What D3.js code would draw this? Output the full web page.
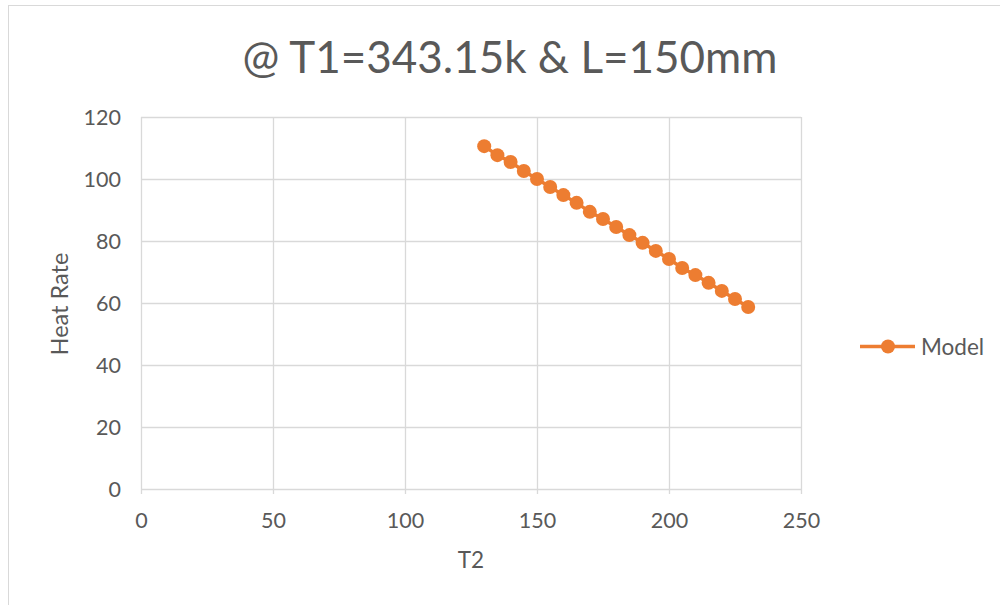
<!DOCTYPE html>
<html>
<head>
<meta charset="utf-8">
<script src="https://cdn.jsdelivr.net/npm/d3@7"></script>
<style>
  html, body { margin: 0; padding: 0; background: #fff; }
  svg { display: block; }
  text { font-family: Lato, "Open Sans", sans-serif; fill: #595959; }
</style>
</head>
<body>
<svg id="chart" width="1000" height="605"></svg>
<script>
// Heat rate vs. outlet temperature T2
const t2Values = [130, 135, 140, 145, 150, 155, 160, 165, 170, 175, 180, 185, 190, 195, 200, 205, 210, 215, 220, 225, 230];
const heatRate = [110.6, 107.7, 105.5, 102.6, 100.0, 97.4, 94.8, 92.3, 89.4, 87.1, 84.5, 81.9, 79.4, 76.8, 74.2, 71.3, 69.0, 66.5, 63.9, 61.3, 58.7];
const xTicks = [0, 50, 100, 150, 200, 250];
const yTicks = [0, 20, 40, 60, 80, 100, 120];
const seriesName = "Model";
const titleText = "@ T1=343.15k & L=150mm";

const svg = d3.select("#chart");
const orange = "#ED7D31";
const grid = "#D9D9D9";

// chart frame
svg.append("rect")
  .attr("x", 8.5).attr("y", 5.5)
  .attr("width", 1000).attr("height", 700)
  .attr("fill", "none").attr("stroke", "#D9D9D9");

const plotL = 141, plotR = 801, plotT = 117, plotB = 489;
const x = d3.scaleLinear().domain([0, 250]).range([plotL, plotR]);
const y = d3.scaleLinear().domain([0, 120]).range([plotB, plotT]);

// gridlines
svg.append("g").selectAll("line").data(xTicks).join("line")
  .attr("x1", d => x(d) + 0.5).attr("x2", d => x(d) + 0.5)
  .attr("y1", plotT).attr("y2", plotB + 5)
  .attr("stroke", grid).attr("stroke-width", 1.3);
svg.append("g").selectAll("line").data(yTicks).join("line")
  .attr("x1", plotL).attr("x2", plotR)
  .attr("y1", d => y(d) + 0.5).attr("y2", d => y(d) + 0.5)
  .attr("stroke", grid).attr("stroke-width", 1.3);

// tick labels
svg.append("g").selectAll("text").data(xTicks).join("text")
  .attr("x", d => x(d) + 0.5).attr("y", 528)
  .attr("text-anchor", "middle").attr("font-size", 21.5)
  .text(d => d);
svg.append("g").selectAll("text").data(yTicks).join("text")
  .attr("x", 121).attr("y", d => y(d) + 7.5)
  .attr("text-anchor", "end").attr("font-size", 21.5)
  .text(d => d);

// axis titles
svg.append("text").attr("x", 471).attr("y", 568)
  .attr("text-anchor", "middle").attr("font-size", 22.5).text("T2");
svg.append("text")
  .attr("transform", "translate(68,304) rotate(-90)")
  .attr("text-anchor", "middle").attr("font-size", 23.5).text("Heat Rate");

// chart title
svg.append("text").attr("x", 510).attr("y", 73)
  .attr("text-anchor", "middle").attr("font-size", 44).text(titleText);

// series
const pts = t2Values.map((t, i) => [t, heatRate[i]]);
svg.append("path")
  .attr("d", d3.line().x(d => x(d[0])).y(d => y(d[1]))(pts))
  .attr("fill", "none").attr("stroke", orange).attr("stroke-width", 3.5);
svg.append("g").selectAll("circle").data(pts).join("circle")
  .attr("cx", d => x(d[0])).attr("cy", d => y(d[1]))
  .attr("r", 7).attr("fill", orange);

// legend
svg.append("line").attr("x1", 860).attr("x2", 915).attr("y1", 346.5).attr("y2", 346.5)
  .attr("stroke", orange).attr("stroke-width", 3.5);
svg.append("circle").attr("cx", 888).attr("cy", 346.5).attr("r", 7).attr("fill", orange);
svg.append("text").attr("x", 921).attr("y", 354.5).attr("font-size", 22.5).text(seriesName);
</script>
</body>
</html>
